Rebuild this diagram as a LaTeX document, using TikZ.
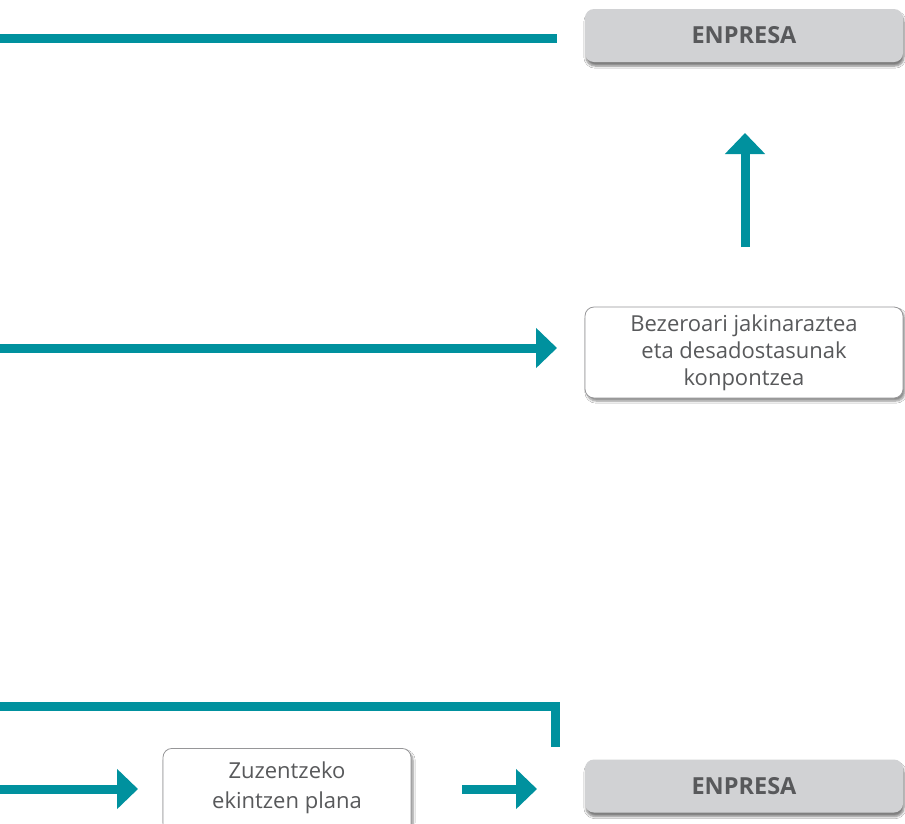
\documentclass[tikz,border=0pt]{standalone}
\usepackage{fontspec}
\setmainfont{Open Sans}
\usetikzlibrary{arrows.meta,shadows.blur,calc}
\definecolor{teal}{RGB}{0,145,158}
\definecolor{boxgray}{RGB}{209,210,212}
\definecolor{txtgray}{RGB}{88,89,91}
\definecolor{edgegray}{RGB}{150,150,152}
\begin{document}
\begin{tikzpicture}[x=1pt,y=-1pt,
  flow/.style={draw=teal,line width=9pt},
  flowarrow/.style={flow,-{Triangle[length=21pt,width=39pt]}},
  graybox/.style={fill=boxgray,rounded corners=9pt,minimum width=318pt,minimum height=53pt,
    text=txtgray,font=\fontsize{23.5}{27}\selectfont\bfseries,inner sep=0pt,
    blur shadow={shadow xshift=1pt,shadow yshift=-4pt,shadow blur steps=6,shadow opacity=50}},
  whitebox/.style={draw=edgegray,line width=0.8pt,fill=white,rounded corners=9pt,inner sep=0pt,
    text=txtgray,font=\fontsize{22}{27}\selectfont,align=center,
    blur shadow={shadow xshift=2pt,shadow yshift=-3pt,shadow blur steps=6,shadow opacity=45}}]
\clip (0,0) rectangle (905,823);
\fill[white] (0,0) rectangle (905,823);

% boxes
\node[graybox] (enpTop) at (744,35.5) {ENPRESA};
\node[whitebox,minimum width=318pt,minimum height=91pt] (infoBox) at (744,352.5)
  {Bezeroari jakinaraztea\\eta desadostasunak\\konpontzea};
\node[graybox] (enpBot) at (744,786) {ENPRESA};
\node[whitebox,minimum width=248pt,minimum height=100pt,anchor=north] (planBox) at (287,748) {};
\node[text=txtgray,font=\fontsize{22}{30}\selectfont,align=center,anchor=north] (planText) at (287,758)
  {Zuzentzeko\\ekintzen plana};

% free ends of the connectors
\coordinate (topL) at (0,38.5);
\coordinate (topR) at (557,38.5);
\coordinate (upS) at (745,247);
\coordinate (upE) at (745,133);
\coordinate (midL) at (0,348);
\coordinate (midR) at (557,348);
\coordinate (fbL) at (0,706);
\coordinate (fbC) at (555,706);
\coordinate (fbE) at (555,747);
\coordinate (botL) at (0,789);
\coordinate (botA) at (138,789);
\coordinate (botS) at (462,789);
\coordinate (botB) at (537,789);

% connectors
\draw[flow] (topL) -- (topR);
\draw[flowarrow] (upS) -- (upE);
\draw[flowarrow] (midL) -- (midR);
\draw[flow] (fbL) -- ($(fbC)+(4.5,0)$);
\draw[flow] (fbC) -- (fbE);
\draw[flowarrow] (botL) -- (botA);
\draw[flowarrow] (botS) -- (botB);
\end{tikzpicture}
\end{document}
